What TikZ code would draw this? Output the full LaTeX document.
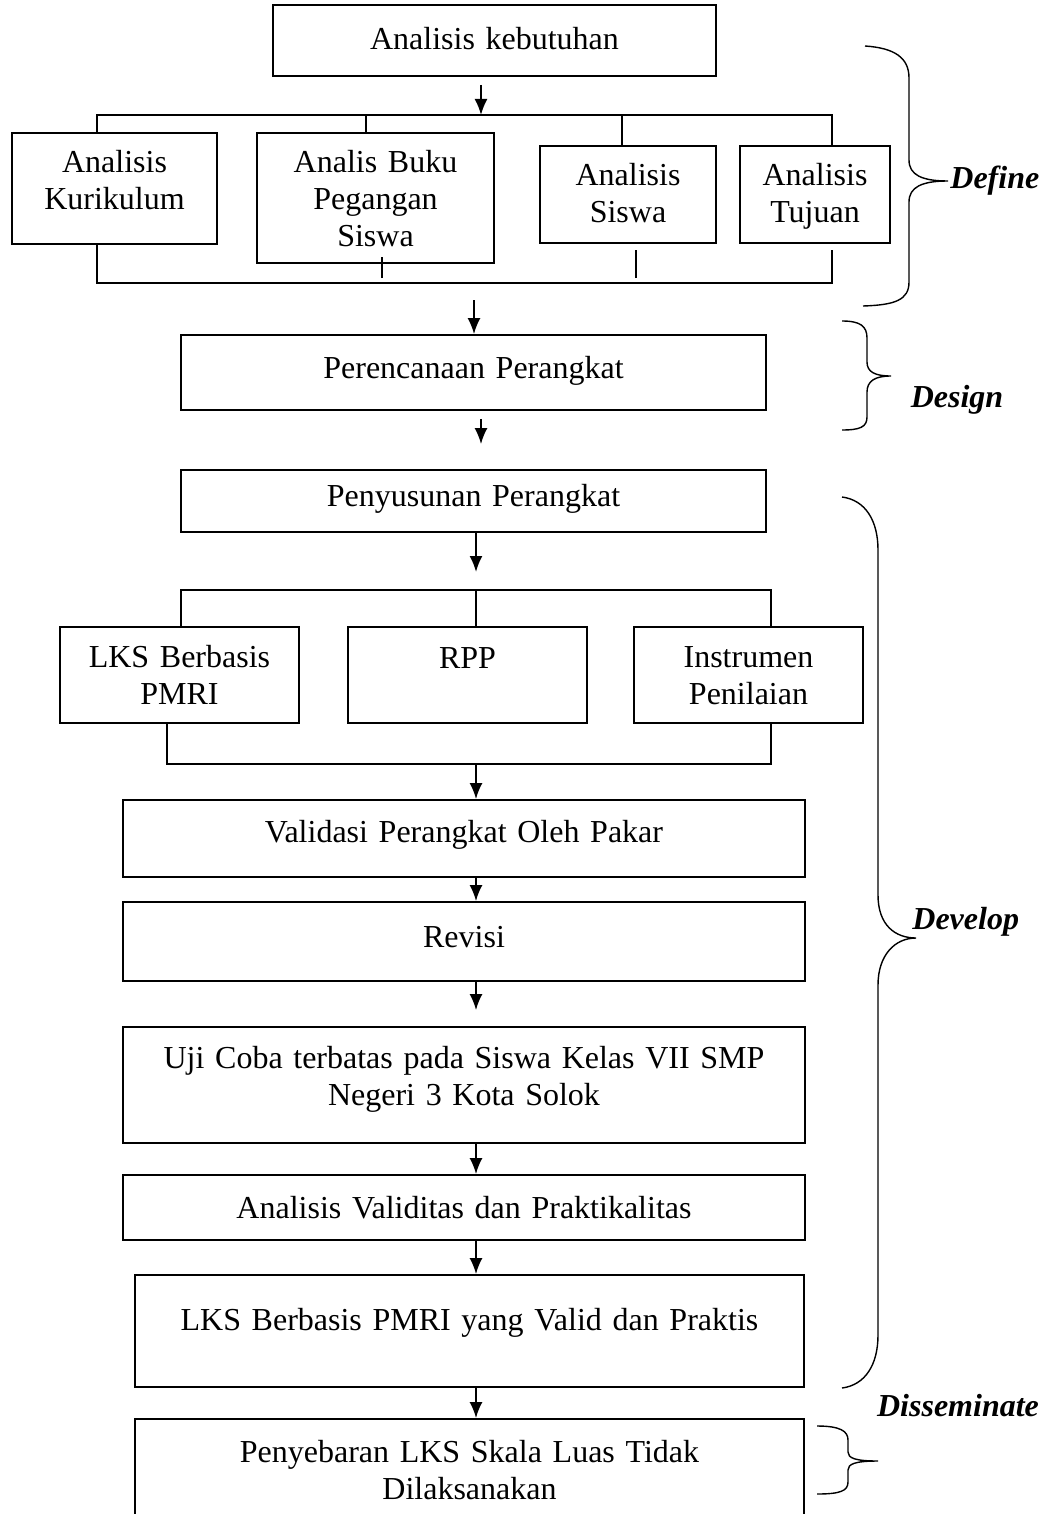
\documentclass[tikz,border=0pt]{standalone}
\usepackage{fontspec}
\setmainfont{Liberation Serif}[WordSpace=0.8]
\usetikzlibrary{arrows.meta}
\tikzset{
	box/.style={draw, rectangle, line width=0.9pt, inner sep=0pt, align=center, font=\fontsize{16}{18.5}\selectfont},
	phase/.style={inner sep=0pt, font=\fontsize{16}{18.5}\selectfont\bfseries\itshape},
	bus/.style={line width=0.95pt},
	brace/.style={line width=0.7pt},
}

\begin{document}
\begin{tikzpicture}[x=0.5pt, y=-0.5pt, >={Latex[length=8pt,width=6.5pt]}]
	\useasboundingbox (0,0) rectangle (1050,1514);
	\clip (0,0) rectangle (1050,1514);
	
	\node (keb) [box, text width=221.5pt, text height=22.5pt, text depth=13pt] at (494.5,40.5) {Analisis kebutuhan};
	
	\node (kur) [box, text width=102.5pt, text height=20pt, text depth=35.5pt] at (114.5,188.5) {Analisis\\Kurikulum};
	\node (buku) [box, text width=118.5pt, text height=20pt, text depth=45pt] at (375.5,198) {Analis Buku\\Pegangan\\Siswa};
	\node (sis) [box, text width=88pt, text height=20pt, text depth=28.5pt] at (628,194.5) {Analisis\\Siswa};
	\node (tuj) [box, text width=75pt, text height=20pt, text depth=28.5pt] at (815,194.5) {Analisis\\Tujuan};
	
	\node (ren) [box, text width=292.5pt, text height=21.5pt, text depth=16pt] at (473.5,372.5) {Perencanaan Perangkat};
	\node (sus) [box, text width=292.5pt, text height=18pt, text depth=13pt] at (473.5,501) {Penyusunan Perangkat};
	
	\node (lks) [box, text width=119.5pt, text height=20pt, text depth=28pt] at (179.5,675) {LKS Berbasis\\PMRI};
	\node (rpp) [box, text width=119.5pt, text height=20.5pt, text depth=27.5pt] at (467.5,675) {RPP};
	\node (ins) [box, text width=114.5pt, text height=20pt, text depth=28pt] at (748.5,675) {Instrumen\\Penilaian};
	
	\node (val) [box, text width=341pt, text height=21pt, text depth=17.5pt] at (464,838.5) {Validasi Perangkat Oleh Pakar};
	\node (rev) [box, text width=341pt, text height=22.5pt, text depth=17pt] at (464,941.5) {Revisi};
	\node (uji) [box, text width=341pt, text height=20.5pt, text depth=37.5pt] at (464,1085) {Uji Coba terbatas pada Siswa Kelas VII SMP\\Negeri 3 Kota Solok};
	\node (anv) [box, text width=341pt, text height=21.5pt, text depth=11pt] at (464,1207.5) {Analisis Validitas dan Praktikalitas};
	\node (hasil) [box, text width=334.5pt, text height=27.5pt, text depth=28.5pt] at (469.5,1331) {LKS Berbasis PMRI yang Valid dan Praktis};
	\node (sebar) [box, text width=334.5pt, text height=21.5pt, text depth=34pt] at (469.5,1474.5) {Penyebaran LKS Skala Luas Tidak\\Dilaksanakan};
	
	% titik cabang
	\coordinate (d0) at (481,115);
	\coordinate (d1) at (97,115);
	\coordinate (d2) at (832,115);
	\coordinate (d3) at (366,115);
	\coordinate (d4) at (622,115);
	\coordinate (e0) at (474,283);
	\coordinate (e1) at (97,283);
	\coordinate (e2) at (832,283);
	\coordinate (e3) at (382,278);
	\coordinate (e4) at (636,278);
	\coordinate (f1) at (181,590);
	\coordinate (f2) at (771,590);
	\coordinate (f3) at (476,590);
	\coordinate (g1) at (167,764);
	\coordinate (g2) at (771,764);
	\coordinate (g3) at (476,764);
	
	\begin{scope}[bus]
		\draw (kur.north -| d1) -- (d1) -- (d2) -- (tuj.north -| d2);
		\draw (d3) -- (d3 |- buku.north);
		\draw (d4) -- (d4 |- sis.north);
		\draw (kur.south -| e1) -- (e1) -- (e2) -- ++(0,-33);
		\draw (e3) -- ++(0,-21);
		\draw (e4) -- ++(0,-28);
		
		\draw (lks.north -| f1) -- (f1) -- (f2) -- (ins.north -| f2);
		\draw (f3) -- (f3 |- rpp.north);
		\draw (lks.south -| g1) -- (g1) -- (g2) -- (ins.south -| g2);
	\end{scope}
	
	\begin{scope}[bus, ->]
		\draw[shorten <=4pt] (keb.south -| d0) -- (d0);
		\draw[shorten <=8.5pt] (e0) -- (e0 |- ren.north);
		\draw[shorten <=4pt, shorten >=12.5pt] (ren.south -| d0) -- (sus.north -| d0);
		\draw[shorten >=9pt] (sus.south -| f3) -- (f3);
		\draw (g3) -- (g3 |- val.north);
		\draw (val.south -| g3) -- (rev.north -| g3);
		\draw[shorten >=8pt] (rev.south -| g3) -- (uji.north -| g3);
		\draw (uji.south -| g3) -- (anv.north -| g3);
		\draw (anv.south -| g3) -- (hasil.north -| g3);
		\draw (hasil.south -| g3) -- (sebar.north -| g3);
	\end{scope}
	
	% kurung tahapan
	\begin{scope}[brace]
		\draw (865,46) .. controls (895,48) and (909,58) .. (909,78) -- (909,160) .. controls (909,175) and (922,181) .. (948,181) .. controls (922,181) and (909,187) .. (909,202) -- (909,282) .. controls (909,300) and (895,305) .. (863,306);
		\draw (842,321) .. controls (860,321) and (867,326) .. (867,338) -- (867,362) .. controls (867,372) and (875,376) .. (891,376) .. controls (875,376) and (867,381) .. (867,392) -- (867,417) .. controls (867,427) and (860,430) .. (842,430);
		\draw (842,497) .. controls (865,500) and (878,520) .. (878,550) -- (878,895) .. controls (878,925) and (895,938) .. (916,938) .. controls (895,938) and (878,955) .. (878,985) -- (878,1335) .. controls (878,1365) and (865,1385) .. (842,1388);
		\draw (817,1426) .. controls (840,1426) and (848,1431) .. (848,1440) -- (848,1452) .. controls (848,1458) and (855,1461) .. (878,1461) .. controls (855,1461) and (848,1464) .. (848,1470) -- (848,1482) .. controls (848,1491) and (840,1494) .. (817,1494);
	\end{scope}
	
	\node (def) [phase, anchor=west] at (950,181) {Define};
	\node (des) [phase] at (957,400) {Design};
	\node (dev) [phase, anchor=west] at (912,922) {Develop};
	\node (dis) [phase] at (958,1406) {Disseminate};
	
\end{tikzpicture}
\end{document}
